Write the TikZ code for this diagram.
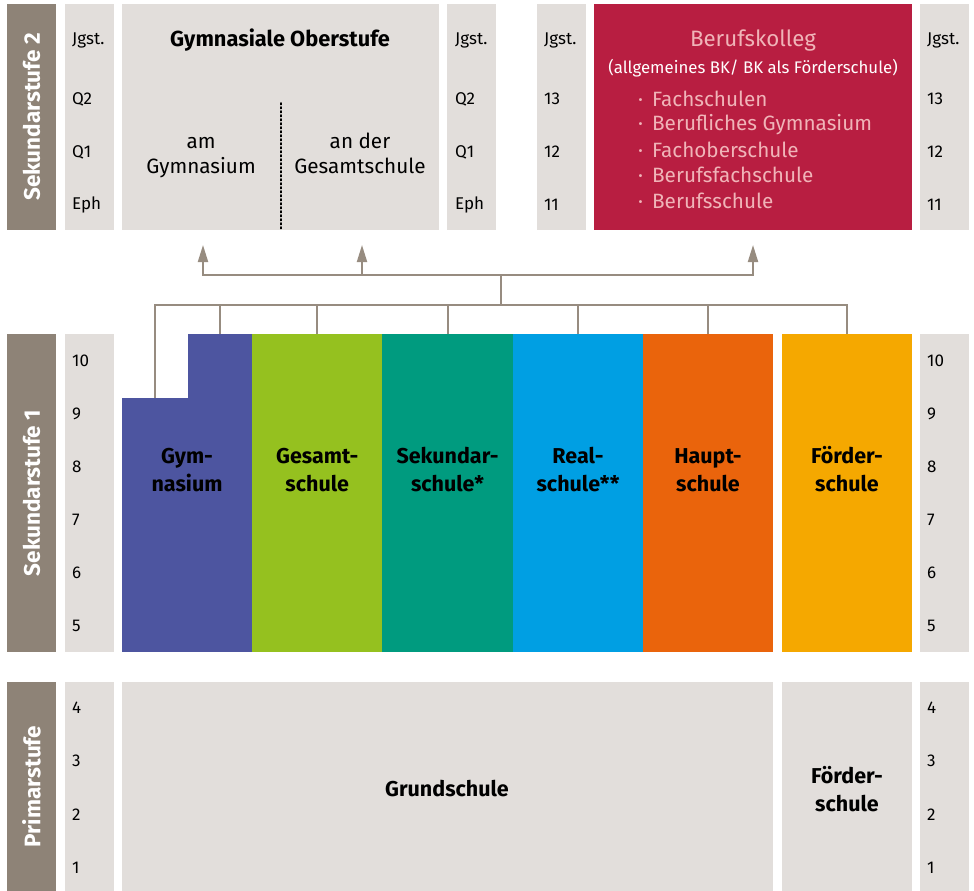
\documentclass[tikz,border=0pt]{standalone}
\usepackage{fontspec}
\setmainfont{Fira Sans}
\usetikzlibrary{arrows.meta}
\definecolor{stagec}{HTML}{8E8377}
\definecolor{lightc}{HTML}{E2DEDB}
\definecolor{bkred}{HTML}{B81E41}
\definecolor{bktext}{HTML}{F0B4B8}
\definecolor{gymc}{HTML}{4D55A0}
\definecolor{gesc}{HTML}{95C11F}
\definecolor{sekc}{HTML}{009B7F}
\definecolor{realc}{HTML}{009FE3}
\definecolor{hauptc}{HTML}{EA640C}
\definecolor{foerdc}{HTML}{F5A800}
\definecolor{connc}{HTML}{978C80}
\tikzset{
  blk/.style={anchor=north west, inner sep=0pt, outer sep=0pt, draw=none},
  stagelbl/.style={rotate=90, text=white, font=\fontsize{22.5}{26}\selectfont\bfseries},
  jg/.style={anchor=west, inner sep=0pt, font=\fontsize{17}{20}\selectfont},
  sname/.style={align=center, font=\fontsize{21.5}{28}\selectfont\bfseries},
  gname/.style={align=center, font=\fontsize{20.7}{25}\selectfont},
  conn/.style={draw=connc, line width=2pt},
  carrow/.style={conn, -{Triangle[length=17pt,width=10pt]}},
  bkitem/.style={anchor=west, inner sep=0pt, text=bktext, font=\fontsize{20.7}{24}\selectfont},
}
\begin{document}
\begin{tikzpicture}[x=1pt,y=-1pt]
\useasboundingbox (0,0) rectangle (974,891);
% ---------- Sekundarstufe 2 ----------
\node[blk, fill=stagec, minimum width=49pt, minimum height=226pt] (s2) at (7,4) {};
\node[stagelbl] at (s2.center) {Sekundarstufe 2};
\node[blk, fill=lightc, minimum width=49pt, minimum height=226pt] (j2a) at (65,4) {};
\node[blk, fill=lightc, minimum width=317pt, minimum height=226pt] (gymob) at (122,4) {};
\node[blk, fill=lightc, minimum width=49pt, minimum height=226pt] (j2b) at (447,4) {};
\node[blk, fill=lightc, minimum width=49pt, minimum height=226pt] (j2c) at (537,4) {};
\node[blk, fill=bkred, minimum width=318pt, minimum height=226pt] (bk) at (594,4) {};
\node[blk, fill=lightc, minimum width=49pt, minimum height=226pt] (j2d) at (920,4) {};
\foreach \xx/\nm in {72/a,455/b,544/c,927/d}{
  \node[jg] (jgst\nm) at (\xx,40) {Jgst.};
}
\foreach \xx/\nm in {72/a,455/b}{
  \node[jg] (q2\nm) at (\xx,99) {Q2};
  \node[jg] (q1\nm) at (\xx,152) {Q1};
  \node[jg] (eph\nm) at (\xx,205) {Eph};
}
\foreach \xx/\nm in {544/c,927/d}{
  \node[jg] (g13\nm) at (\xx,99) {13};
  \node[jg] (g12\nm) at (\xx,152) {12};
  \node[jg] (g11\nm) at (\xx,205) {11};
}
\node[font=\fontsize{21.8}{26}\selectfont\bfseries] (gymobt) at (280,40) {Gymnasiale Oberstufe};
\draw[line width=1.6pt, dash pattern=on 1.6pt off 2.4pt, line cap=round] (281,103) -- (281,229);
\node[gname] (amgym) at (201,156) {\strut am\\\strut Gymnasium};
\node[gname] (angs) at (360,156) {\strut an der\\\strut Gesamtschule};
\node[text=bktext, font=\fontsize{22.3}{26}\selectfont] (bkt) at (753,41) {Berufskolleg};
\node[text=white, font=\fontsize{16.8}{20}\selectfont] (bks) at (753,68) {(allgemeines BK/ BK als Förderschule)};
\node[bkitem] (bk1) at (638,99) {·\hspace{9pt}Fachschulen};
\node[bkitem] (bk2) at (638,125) {·\hspace{9pt}Berufliches Gymnasium};
\node[bkitem] (bk3) at (638,150) {·\hspace{9pt}Fachoberschule};
\node[bkitem] (bk4) at (638,175) {·\hspace{9pt}Berufsfachschule};
\node[bkitem] (bk5) at (638,201) {·\hspace{9pt}Berufsschule};
% ---------- Sekundarstufe 1 ----------
\node[blk, fill=stagec, minimum width=49pt, minimum height=318pt] (s1) at (7,334) {};
\node[stagelbl] at (s1.center) {Sekundarstufe 1};
\node[blk, fill=lightc, minimum width=49pt, minimum height=318pt] (j1a) at (65,334) {};
\node[blk, fill=lightc, minimum width=49pt, minimum height=318pt] (j1b) at (920,334) {};
\foreach \xx/\nm in {72/a,927/b}{
  \foreach \g [count=\i from 0] in {10,9,8,7,6,5}{
    \node[jg] (s\g\nm) at (\xx,361+53*\i) {\g};
  }
}
\node[blk, fill=gymc, minimum width=66pt, minimum height=254pt] (gymlow) at (122,398) {};
\node[blk, fill=gymc, minimum width=65pt, minimum height=318pt] (gymup) at (187.5,334) {};
\node[blk, fill=gesc, minimum width=130.5pt, minimum height=318pt] (ges) at (252,334) {};
\node[blk, fill=sekc, minimum width=131pt, minimum height=318pt] (sek) at (382,334) {};
\node[blk, fill=realc, minimum width=130pt, minimum height=318pt] (real) at (513,334) {};
\node[blk, fill=hauptc, minimum width=130pt, minimum height=318pt] (haupt) at (643,334) {};
\node[blk, fill=foerdc, minimum width=130pt, minimum height=318pt] (foerd) at (782,334) {};
\node[sname] (gymt) at (187,472) {\strut Gym-\\\strut nasium};
\node[sname] at (ges.center |- 0,472) {\strut Gesamt-\\\strut schule};
\node[sname] at (sek.center |- 0,472) {\strut Sekundar-\\\strut schule*};
\node[sname] at (real.center |- 0,472) {\strut Real-\\\strut schule**};
\node[sname] at (haupt.center |- 0,472) {\strut Haupt-\\\strut schule};
\node[sname] at (foerd.center |- 0,472) {\strut Förder-\\\strut schule};
% ---------- Primarstufe ----------
\node[blk, fill=stagec, minimum width=49pt, minimum height=209pt] (pr) at (7,682) {};
\node[stagelbl] at (pr.center) {Primarstufe};
\node[blk, fill=lightc, minimum width=49pt, minimum height=209pt] (jpa) at (65,682) {};
\node[blk, fill=lightc, minimum width=651pt, minimum height=209pt] (grund) at (122,682) {};
\node[blk, fill=lightc, minimum width=130pt, minimum height=209pt] (pfoerd) at (782,682) {};
\node[blk, fill=lightc, minimum width=49pt, minimum height=209pt] (jpb) at (920,682) {};
\foreach \xx/\nm in {72/a,927/b}{
  \foreach \g [count=\i from 0] in {4,3,2,1}{
    \node[jg] (p\g\nm) at (\xx,708+53.3*\i) {\g};
  }
}
\node[sname] at (447,789) {Grundschule};
\node[sname] at (847,792) {\strut Förder-\\\strut schule};
% ---------- connectors ----------
\coordinate (dist) at (501,305);
\coordinate (split) at (501,275);
\coordinate (tA) at (203,245);
\coordinate (tB) at (362,245);
\coordinate (tC) at (753,245);
\draw[conn] (gymlow.north) -- (gymlow.north |- dist) -- (foerd.north |- dist) -- (foerd.north);
\foreach \n in {gymup,ges,sek,real,haupt}{
  \draw[conn] (\n.north) -- (\n.north |- dist);
}
\draw[conn] (dist) -- (split);
\draw[carrow] (split) -| (tA);
\draw[carrow] (split) -| (tB);
\draw[carrow] (split) -| (tC);
\end{tikzpicture}
\end{document}
